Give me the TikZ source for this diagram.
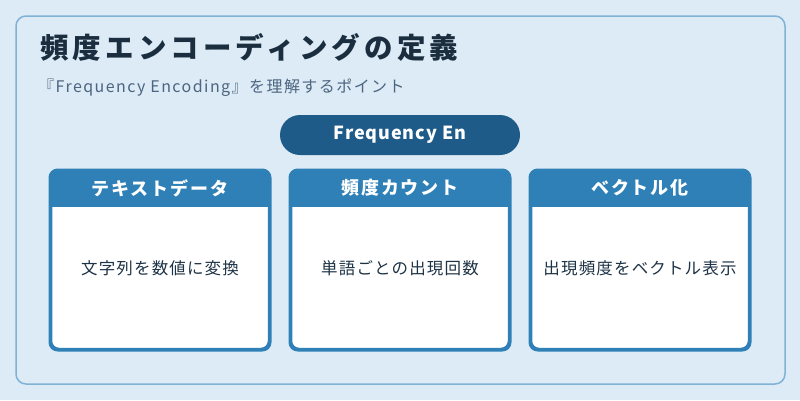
\documentclass[tikz,border=0pt]{standalone}
\usepackage{fontspec}
\setmainfont{Noto Sans CJK JP}
\usetikzlibrary{calc}
\definecolor{bgc}{HTML}{DDEBF6}
\definecolor{framec}{HTML}{7FB2D5}
\definecolor{titlec}{HTML}{1B2E3F}
\definecolor{subc}{HTML}{4C6580}
\definecolor{pillc}{HTML}{1F5B88}
\definecolor{hdrc}{HTML}{2E80B6}
\definecolor{bodyc}{HTML}{1E3346}
\tikzset{
  cardbody/.style={draw=hdrc, line width=2.5pt, fill=white, rounded corners=8pt, minimum width=218pt, minimum height=178pt, inner sep=0pt},
  hdrtext/.style={text=white, font=\fontsize{18}{20}\selectfont\bfseries\addfontfeatures{LetterSpace=10}, inner sep=0pt},
  bodytext/.style={text=bodyc, font=\fontsize{16.5}{20}\selectfont\addfontfeatures{LetterSpace=7}, inner sep=0pt},
}
\begin{document}
\begin{tikzpicture}[x=1pt,y=-1pt]
\fill[bgc] (0,0) rectangle (800,400);
\useasboundingbox (0,0) rectangle (800,400);
\draw[framec, line width=1.5pt, rounded corners=10pt] (16,16) rectangle (785,384);
\node[anchor=west, inner sep=0pt, text=titlec, font=\fontsize{28.5}{32}\selectfont\bfseries\addfontfeatures{LetterSpace=14.5}] (title) at (40,47) {頻度エンコーディングの定義};
\node[anchor=west, inner sep=0pt, text=subc, font=\fontsize{16}{19}\selectfont\addfontfeatures{LetterSpace=9}] (sub) at (38,88) {『Frequency Encoding』を理解するポイント};
\node[fill=pillc, rounded corners=20pt, minimum width=240pt, minimum height=40pt, inner sep=0pt, text=white, font=\fontsize{18}{20}\selectfont\bfseries\addfontfeatures{LetterSpace=5}] (pill) at (400,135) {Frequency En};
\foreach \i/\cx/\h/\b in {1/160/テキストデータ/文字列を数値に変換, 2/400/頻度カウント/単語ごとの出現回数, 3/640/ベクトル化/出現頻度をベクトル表示}{
  \node[cardbody] (card\i) at (\cx,260) {};
  \begin{scope}
    \clip[rounded corners=8pt] (card\i.north west) rectangle (card\i.south east);
    \fill[hdrc] (card\i.north west) rectangle ($(card\i.north east)+(0,37)$);
  \end{scope}
  \draw[hdrc, line width=2.5pt, rounded corners=8pt] (card\i.north west) rectangle (card\i.south east);
  \node[hdrtext] (head\i) at (\cx,188) {\h};
  \node[bodytext] (text\i) at (\cx,268) {\b};
}
\end{tikzpicture}
\end{document}
